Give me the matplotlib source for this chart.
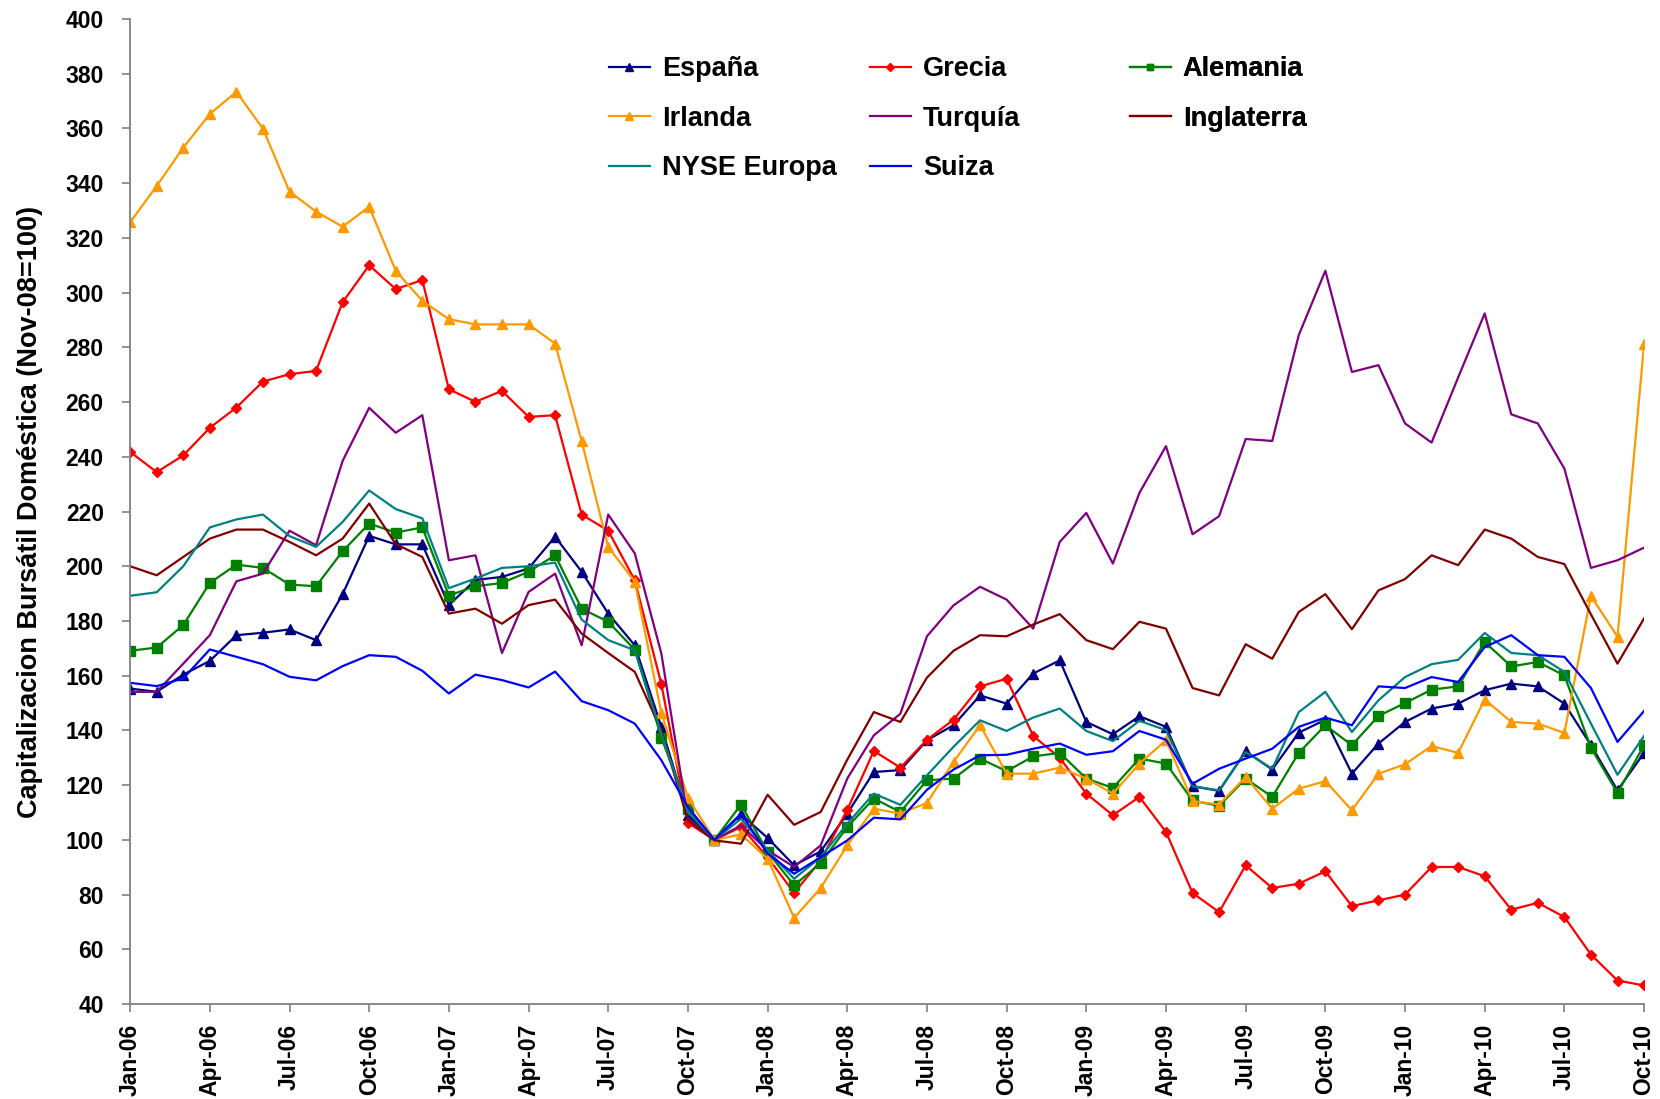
import numpy as np
import matplotlib.pyplot as plt

plt.rcParams['font.family'] = ['Liberation Sans', 'DejaVu Sans']
plt.rcParams['font.weight'] = 'bold'

# months Jan-06 .. Oct-10
meses = ['Jan', 'Feb', 'Mar', 'Apr', 'May', 'Jun', 'Jul', 'Aug', 'Sep', 'Oct', 'Nov', 'Dec']
fechas = []
for a in range(6, 11):
    for m in meses:
        fechas.append('%s-%02d' % (m, a))
fechas = fechas[:58]

espana = [155.3, 154.1, 160.4, 165.4, 174.8, 175.7, 176.9, 173.0, 189.8, 211.1, 208.0, 208.0,
          185.8, 195.0, 196.1, 199.2, 210.8, 198.0, 182.7, 171.1, 141.3, 109.0, 100.0, 109.3,
          100.7, 90.7, 95.8, 109.6, 124.8, 125.5, 136.4, 141.9, 152.8, 149.8, 160.8, 165.6,
          143.1, 138.6, 145.2, 141.3, 119.6, 117.9, 132.4, 125.7, 139.2, 143.9, 124.2, 135.2,
          143.1, 148.0, 149.8, 154.7, 157.1, 156.1, 149.8, 134.6, 118.1, 131.8]

grecia = [241.8, 234.4, 240.5, 250.6, 258.0, 267.5, 270.2, 271.4, 296.5, 310.0, 301.3, 304.6,
          264.7, 260.1, 264.1, 254.6, 255.2, 218.9, 213.0, 194.9, 156.9, 106.2, 100.0, 104.7,
          93.7, 80.6, 92.5, 111.0, 132.5, 126.4, 136.6, 143.9, 156.1, 158.9, 138.0, 130.0,
          116.9, 109.0, 115.7, 102.9, 80.6, 73.6, 90.7, 82.4, 84.0, 88.5, 75.8, 77.9,
          80.0, 90.1, 90.1, 86.7, 74.5, 77.0, 71.8, 58.1, 48.6, 46.8]

alemania = [169.1, 170.3, 178.5, 193.9, 200.6, 199.4, 193.3, 192.7, 205.5, 215.6, 212.3, 214.2,
            189.3, 192.7, 193.9, 198.0, 204.0, 184.5, 179.7, 169.5, 137.4, 111.4, 100.0, 112.9,
            95.6, 83.4, 91.5, 104.7, 115.1, 110.2, 121.8, 122.4, 129.7, 125.1, 130.5, 131.8,
            122.4, 119.0, 129.7, 127.9, 114.4, 112.4, 122.4, 115.7, 131.8, 141.9, 134.6, 145.3,
            150.0, 154.9, 156.1, 172.3, 163.4, 165.0, 160.1, 133.7, 117.1, 134.6]

irlanda = [325.7, 339.0, 353.0, 365.3, 373.4, 359.9, 336.9, 329.6, 324.1, 331.4, 308.0, 297.0,
           290.3, 288.4, 288.4, 288.4, 281.4, 245.7, 207.0, 194.4, 146.4, 115.4, 100.0, 102.0,
           93.1, 71.5, 82.4, 98.0, 111.4, 109.6, 113.5, 128.5, 141.9, 124.2, 124.2, 126.4,
           122.4, 116.9, 127.9, 136.4, 114.2, 112.9, 123.0, 111.4, 118.7, 121.5, 110.8, 124.2,
           127.6, 134.3, 131.8, 151.3, 143.1, 142.5, 139.1, 189.2, 174.2, 281.1]

turquia = [154.1, 154.1, 164.4, 174.8, 194.5, 197.3, 213.0, 207.7, 238.5, 257.9, 248.8, 255.2,
           202.2, 204.0, 168.3, 190.6, 197.3, 171.1, 218.9, 204.7, 168.1, 107.7, 100.0, 105.3,
           96.2, 90.1, 98.0, 122.4, 138.2, 146.1, 174.4, 185.7, 192.5, 187.8, 177.2, 208.9,
           219.5, 201.0, 226.8, 243.9, 211.7, 218.3, 246.5, 245.8, 284.5, 308.0, 271.0, 273.5,
           252.2, 245.2, 269.0, 292.4, 255.5, 252.2, 235.7, 199.4, 202.2, 206.8]

inglaterra = [200.0, 196.7, 203.4, 210.1, 213.4, 213.4, 208.9, 204.0, 210.1, 222.9, 208.1, 203.4,
              182.7, 184.5, 179.0, 185.8, 187.8, 175.4, 168.3, 161.4, 140.0, 107.1, 99.8, 98.6,
              116.5, 105.5, 110.2, 129.3, 146.7, 143.1, 159.3, 169.1, 174.8, 174.4, 178.7, 182.5,
              173.0, 169.7, 179.7, 177.2, 155.5, 152.8, 171.5, 166.2, 183.3, 189.8, 177.0, 191.2,
              195.3, 204.0, 200.4, 213.4, 210.1, 203.4, 200.8, 182.4, 164.4, 180.9]

nyse = [189.2, 190.5, 200.0, 214.2, 217.1, 218.9, 211.0, 207.1, 216.2, 227.7, 220.9, 217.5,
        192.0, 195.5, 199.4, 200.0, 201.3, 180.5, 173.0, 169.3, 138.8, 110.2, 100.0, 107.7,
        96.2, 85.8, 93.7, 105.9, 116.9, 112.8, 123.6, 134.0, 143.7, 139.8, 144.7, 148.0,
        139.8, 136.1, 143.5, 140.1, 119.6, 118.1, 132.1, 126.0, 146.7, 154.1, 139.4, 151.0,
        159.5, 164.2, 165.8, 175.6, 168.3, 167.5, 161.4, 142.5, 123.8, 138.0]

suiza = [157.4, 156.2, 159.0, 169.6, 166.9, 164.2, 159.6, 158.3, 163.5, 167.5, 166.9, 161.8,
         153.5, 160.4, 158.4, 155.7, 161.5, 150.7, 147.4, 142.5, 129.1, 112.0, 100.0, 109.6,
         95.0, 87.6, 93.7, 99.8, 108.1, 107.5, 118.3, 125.7, 130.9, 131.1, 133.3, 135.2,
         131.1, 132.4, 139.8, 136.6, 120.5, 126.0, 129.7, 133.3, 141.3, 144.7, 141.9, 156.1,
         155.5, 159.5, 157.7, 170.5, 174.8, 167.5, 166.9, 155.5, 135.8, 147.1]

x = np.arange(len(fechas))

fig = plt.figure(figsize=(16.6, 10.99), dpi=100)
ax = fig.add_axes([0.0784, 0.0864, 0.9120, 0.8963])

lineas = {}
lineas['España'] = ax.plot(x, espana, color='#000080', lw=1.6, marker='^', ms=7, label='España')[0]
lineas['Grecia'] = ax.plot(x, grecia, color='#FF0000', lw=1.6, marker='D', ms=5.5, label='Grecia')[0]
lineas['Alemania'] = ax.plot(x, alemania, color='#008000', lw=1.6, marker='s', ms=6.5, label='Alemania')[0]
lineas['Irlanda'] = ax.plot(x, irlanda, color='#FF9900', lw=1.6, marker='^', ms=7, label='Irlanda')[0]
lineas['Turquía'] = ax.plot(x, turquia, color='#800080', lw=1.6, label='Turquía')[0]
lineas['Inglaterra'] = ax.plot(x, inglaterra, color='#800000', lw=1.6, label='Inglaterra')[0]
lineas['NYSE Europa'] = ax.plot(x, nyse, color='#008080', lw=1.6, label='NYSE Europa')[0]
lineas['Suiza'] = ax.plot(x, suiza, color='#0000FF', lw=1.6, label='Suiza')[0]

ax.set_xlim(0, len(fechas) - 1)
ax.set_ylim(40, 400)
ax.set_yticks(np.arange(40, 401, 20))
ax.set_xticks(x[::3])
ax.set_xticklabels(fechas[::3], rotation=90, fontsize=16.5, fontweight='bold')
ax.tick_params(axis='y', labelsize=16.5, length=6, width=1.2, color='#808080', pad=13)
ax.tick_params(axis='x', length=6, width=1.2, color='#808080', pad=8)
for lab in ax.get_yticklabels():
    lab.set_fontweight('bold')

for s in ['top', 'right']:
    ax.spines[s].set_visible(False)
for s in ['left', 'bottom']:
    ax.spines[s].set_color('#808080')
    ax.spines[s].set_linewidth(1.3)

ax.set_ylabel('Capitalizacion Bursátil Doméstica (Nov-08=100)', fontsize=19.5, fontweight='bold', labelpad=16)

# legend, three columns placed like the original
columnas = [['España', 'Irlanda', 'NYSE Europa'],
            ['Grecia', 'Turquía', 'Suiza'],
            ['Alemania', 'Inglaterra']]
pos_x = [0.3669, 0.5241, 0.6807]
for nombres, px in zip(columnas, pos_x):
    leg = ax.legend([lineas[n] for n in nombres], nombres, loc='upper left',
                    bbox_to_anchor=(px, 0.949), bbox_transform=fig.transFigure,
                    frameon=False, borderpad=0, borderaxespad=0, handlelength=1.5,
                    handletextpad=0.45, labelspacing=0.87, markerscale=0.75,
                    prop={'size': 19.5, 'weight': 'bold'})
    ax.add_artist(leg)

plt.savefig('out.png', dpi=100)
